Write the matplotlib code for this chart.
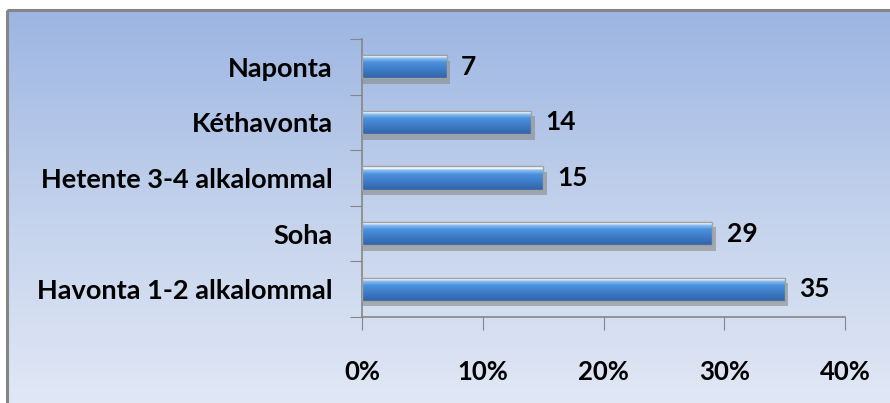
import numpy as np
import matplotlib.pyplot as plt
from matplotlib.colors import LinearSegmentedColormap
from matplotlib.patches import Rectangle

# data (percent)
categories = ["Havonta 1-2 alkalommal", "Soha", "Hetente 3-4 alkalommal", "Kéthavonta", "Naponta"]
values = [35, 29, 15, 14, 7]
xticks = [0, 10, 20, 30, 40]
xticklabels = ["0%", "10%", "20%", "30%", "40%"]

plt.rcParams['font.family'] = ['Lato', 'DejaVu Sans']
plt.rcParams['font.weight'] = 'bold'

W, H = 890, 403
fig = plt.figure(figsize=(W / 100, H / 100), dpi=100)
fig.patch.set_facecolor("white")

# background panel with vertical gradient
bg = fig.add_axes([0, 0, 1, 1])
bg.set_xlim(0, W)
bg.set_ylim(H, 0)
bg.axis("off")
bg_cmap = LinearSegmentedColormap.from_list("bg", ["#9cb5e2", "#c3d2ec", "#e2e8f5"])
grad = np.linspace(0, 1, 256).reshape(-1, 1)
bg.imshow(grad, cmap=bg_cmap, aspect="auto", extent=[7, W + 5, H + 5, 10], zorder=0)
bg.add_patch(Rectangle((7, 10), W, H, fill=False, edgecolor="#858585", lw=2.2, zorder=1))

# plot area
x0, x1, y0, y1 = 362, 845, 39, 317
ax = fig.add_axes([x0 / W, 1 - y1 / H, (x1 - x0) / W, (y1 - y0) / H])
ax.patch.set_alpha(0)
ax.set_xlim(0, 40)
ax.set_ylim(-0.5, len(categories) - 0.5)

bar_cmap = LinearSegmentedColormap.from_list(
    "bar", [(0, "#f4f9ff"), (0.1, "#f4f9ff"), (0.16, "#8ec0f2"), (0.35, "#4a90dc"),
            (0.7, "#3c78c2"), (1, "#2f64a8")])
bar_h = 0.42
for i, v in enumerate(values):
    # shadow
    ax.add_patch(Rectangle((0, i - bar_h / 2 - 0.1), v + 0.3, bar_h, facecolor="#8a8a8a",
                           alpha=0.6, edgecolor="none", zorder=2))
    im = ax.imshow(np.linspace(0, 1, 64).reshape(-1, 1), cmap=bar_cmap, aspect="auto",
                   extent=[0, v, i - bar_h / 2, i + bar_h / 2], origin="upper", zorder=3)
    rect = Rectangle((0, i - bar_h / 2), v, bar_h, facecolor="none", edgecolor="none")
    ax.add_patch(rect)
    im.set_clip_path(rect)
    ax.add_patch(Rectangle((0, i - bar_h / 2), v, bar_h, facecolor="none",
                           edgecolor="#a0a0a0", lw=1.0, zorder=4))
    ax.text(v + 1.2, i, str(v), va="center", ha="left", fontsize=19, fontweight="bold", zorder=5)

ax.set_yticks(np.arange(-0.5, len(categories), 1), minor=False)
ax.set_yticklabels([])
ax.set_yticks(np.arange(len(categories)), minor=True)
ax.set_yticklabels(categories, minor=True, fontsize=19.5, fontweight="bold")
ax.tick_params(axis="y", which="minor", length=0, pad=21)
ax.tick_params(axis="y", which="major", length=9, color="#868686", direction="out")

ax.set_xticks(xticks)
ax.set_xticklabels(xticklabels, fontsize=18.5, fontweight="bold")
ax.tick_params(axis="x", length=9, color="#868686", pad=22)

for s in ["top", "right"]:
    ax.spines[s].set_visible(False)
for s in ["left", "bottom"]:
    ax.spines[s].set_color("#868686")
    ax.spines[s].set_linewidth(1.2)

fig.savefig("out.png", dpi=100)
